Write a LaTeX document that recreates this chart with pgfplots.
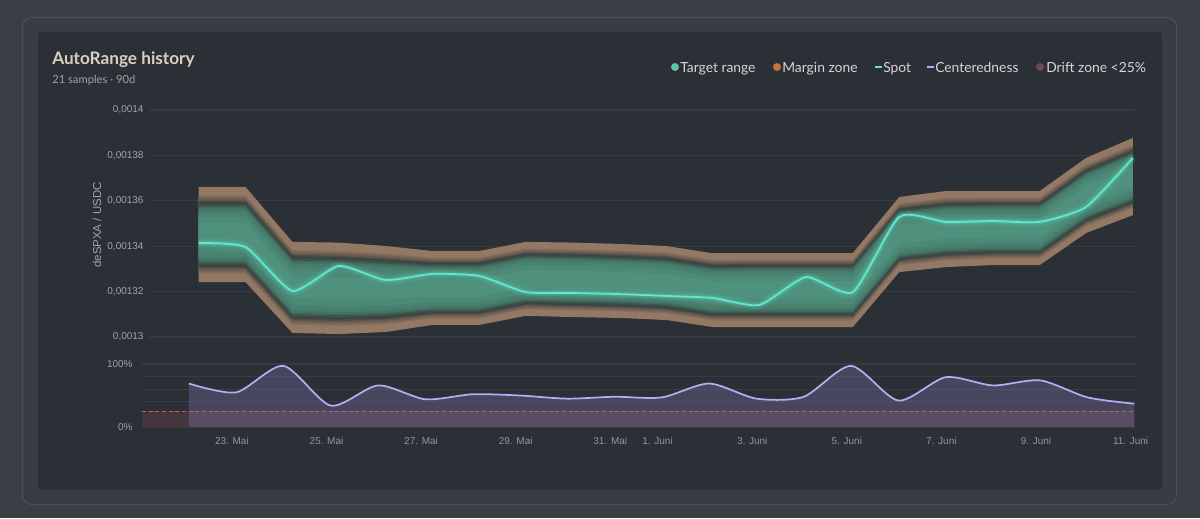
\documentclass[border=0pt]{standalone}
\usepackage{pgfplots}
\pgfplotsset{compat=1.18}
\usepackage{pgfplotstable}
\usepgfplotslibrary{fillbetween}
\usepackage{fontspec}
\setmainfont{Lato}
\newfontfamily\tickfont{Liberation Sans}

\pgfdeclarelayer{framebg}
\pgfplotsset{
  layers/framed/.define layer set={
    framebg,axis background,axis grid,axis ticks,axis lines,axis tick labels,
    pre main,main,axis descriptions,axis foreground
  }{
    grid style={/pgfplots/on layer=axis grid},
    tick style={/pgfplots/on layer=axis ticks},
    axis line style={/pgfplots/on layer=axis lines},
    label style={/pgfplots/on layer=axis descriptions},
    legend style={/pgfplots/on layer=axis descriptions},
    title style={/pgfplots/on layer=axis descriptions},
    ticklabel style={/pgfplots/on layer=axis tick labels},
    axis background@ style={/pgfplots/on layer=axis background},
  },
  set layers=framed,
}

\definecolor{bgouter}{HTML}{3A3E45}
\definecolor{card}{HTML}{383C43}
\definecolor{cardborder}{HTML}{4B4F57}
\definecolor{panel}{HTML}{2B2F36}
\definecolor{gridc}{HTML}{373B43}
\definecolor{tickgray}{HTML}{A0A4A9}
\definecolor{titlec}{HTML}{D9D0C1}
\definecolor{subc}{HTML}{9FA2A7}
\definecolor{legc}{HTML}{D4D6D9}
\definecolor{spotc}{HTML}{62E8CC}
\definecolor{lavc}{HTML}{B4AEF0}
\definecolor{lavfill}{HTML}{9A90D8}
\definecolor{driftc}{HTML}{45363D}
\definecolor{driftdot}{HTML}{6C4A52}
\definecolor{dashc}{HTML}{B9626E}
\definecolor{legtarget}{HTML}{5CC7A0}
\definecolor{legmargin}{HTML}{C8733A}
\definecolor{tanc}{HTML}{937864}
\definecolor{darkc}{HTML}{3E423F}
\definecolor{greendark}{HTML}{3B544C}
\definecolor{greenc}{HTML}{4B8A77}
\definecolor{greenlight}{HTML}{4F917D}

% upper panel: x = day (May numbering, 1 June = 32), values in 1e-5 units
\pgfplotstableread{
x mt mb s
22.30 136.61 132.42 134.14
23.29 136.61 132.42 133.96
24.28 134.19 130.18 132.03
25.26 134.16 130.13 133.13
26.25 134.01 130.22 132.51
27.24 133.79 130.53 132.78
28.23 133.79 130.53 132.69
29.21 134.19 130.93 131.98
30.20 134.16 130.88 131.94
31.19 134.10 130.84 131.89
32.18 134.01 130.75 131.81
33.16 133.69 130.44 131.72
34.15 133.70 130.44 131.41
35.14 133.70 130.44 132.64
36.13 133.70 130.44 131.98
37.11 136.17 132.86 135.29
38.10 136.43 133.08 135.07
39.09 136.43 133.17 135.11
40.08 136.43 133.17 135.07
41.06 137.89 134.58 135.73
42.05 138.77 135.37 137.89
}\updata

\pgfplotstableread{
x c
22.09 69
23.09 55
24.09 97
25.09 34
26.09 66
27.09 44
28.09 52
29.09 50
30.09 45
31.09 48
32.09 47
33.09 69
34.09 45
35.09 48
36.09 97
37.09 42
38.09 79
39.09 66
40.09 74
41.09 47
42.08 37
}\lowdata

\newcommand{\band}[3]{%
  \addplot[draw=none, name path=t#3, forget plot] table[x=x, y expr={\thisrow{mt}+#1*(\thisrow{mb}-\thisrow{mt})}]{\updata};
  \addplot[draw=none, name path=b#3, forget plot] table[x=x, y expr={\thisrow{mb}-#1*(\thisrow{mb}-\thisrow{mt})}]{\updata};
  \addplot[fill={#2}, draw=none, forget plot] fill between[of=t#3 and b#3];
}

\begin{document}
\begin{tikzpicture}
\begin{pgfonlayer}{framebg}
\begin{scope}[x=0.75pt,y=-0.75pt]
  \fill[bgouter] (0,0) rectangle (1200,518);
  \draw[cardborder, fill=card, line width=0.8pt, rounded corners=7pt] (22.5,17.5) rectangle (1176.5,504.5);
  \fill[panel, rounded corners=2pt] (38,32) rectangle (1162,490);
\end{scope}
\end{pgfonlayer}
\begin{scope}[x=0.75pt,y=-0.75pt]
  \useasboundingbox (0,0) rectangle (1200,518);
  % title
  \node[anchor=base west, inner sep=0pt, text=titlec, font=\bfseries\fontsize{12.9}{14}\selectfont] at (52,64) {AutoRange history};
  \node[anchor=base west, inner sep=0pt, text=subc, font=\fontsize{8.4}{10}\selectfont] at (52,83) {21 samples · 90d};
  % legend
  \begin{scope}[every node/.style={anchor=base west, inner sep=0pt, text=legc, font=\fontsize{10.4}{12}\selectfont}]
    \fill[legtarget] (675,67) circle (4);
    \node at (680,72) {Target range};
    \fill[legmargin] (777,67) circle (4);
    \node at (782,72) {Margin zone};
    \draw[spotc, line width=1.3pt] (875,67) -- (882,67);
    \node at (883,72) {Spot};
    \draw[lavc, line width=1.3pt] (927,67) -- (934,67);
    \node at (935,72) {Centeredness};
    \fill[driftdot] (1040,67) circle (4);
    \node at (1046,72) {Drift zone <25\%};
  \end{scope}
  \node[rotate=90, text=tickgray, font=\tickfont\fontsize{8.6}{10}\selectfont, inner sep=0pt] at (97,225) {deSPXA / USDC};
\end{scope}

% upper axis
\begin{axis}[
  at={(112.5pt,-252.75pt)}, anchor=south west,
  scale only axis, width=738.6pt, height=170.25pt,
  xmin=21.27, xmax=42.09, ymin=130, ymax=140,
  axis line style={draw=none}, major tick length=0pt, tick style={draw=none},
  xtick=\empty,
  ytick={130,132,134,136,138,140},
  yticklabels={{0,0013},{0,00132},{0,00134},{0,00136},{0,00138},{0,0014}},
  yticklabel style={font=\tickfont\fontsize{7.5}{9}\selectfont, text=tickgray, xshift=-1.3pt},
  ymajorgrids, grid style={gridc, line width=0.8pt},
]
\band{0.00}{tanc}{a}
\band{0.09}{tanc!80!darkc}{b}
\band{0.11}{tanc!60!darkc}{c}
\band{0.13}{tanc!40!darkc}{d}
\band{0.145}{tanc!20!darkc}{e}
\band{0.16}{darkc}{f}
\band{0.175}{greendark!60!darkc}{g}
\band{0.19}{greendark}{h}
\band{0.205}{greenc!35!greendark}{i}
\band{0.22}{greenc!55!greendark}{j}
\band{0.24}{greenc!72!greendark}{k}
\band{0.27}{greenc!86!greendark}{l}
\band{0.31}{greenc}{m}
\band{0.38}{greenlight}{n}
\addplot[spotc, opacity=0.10, line width=7pt, smooth, tension=0.35] table[x=x,y=s]{\updata};
\addplot[spotc, opacity=0.22, line width=3.6pt, smooth, tension=0.35] table[x=x,y=s]{\updata};
\addplot[spotc, line width=1.3pt, smooth, tension=0.35] table[x=x,y=s]{\updata};
\end{axis}

% lower axis
\begin{axis}[
  at={(106.5pt,-320.25pt)}, anchor=south west,
  scale only axis, width=745pt, height=47.25pt,
  xmin=21.10, xmax=42.10, ymin=0, ymax=100,
  axis line style={draw=none}, major tick length=0pt, minor tick length=0pt, tick style={draw=none},
  xtick={23,25,27,29,31,32,34,36,38,40,42},
  xticklabels={23. Mai,25. Mai,27. Mai,29. Mai,31. Mai,1. Juni,3. Juni,5. Juni,7. Juni,9. Juni,11. Juni},
  ytick={0,100}, yticklabels={0\%,100\%},
  minor ytick={20,40,60,80},
  ymajorgrids, yminorgrids,
  major grid style={gridc, line width=0.8pt},
  minor grid style={gridc, line width=0.6pt},
  yticklabel style={font=\tickfont\fontsize{7.5}{9}\selectfont, text=tickgray, xshift=-3.5pt},
  xticklabel style={font=\tickfont\fontsize{7.5}{9}\selectfont, text=tickgray!115, yshift=-4.5pt},
  clip=false,
]
\addplot[fill=driftc, draw=none] coordinates {(21.10,0) (21.10,25) (42.08,25) (42.08,0)} -- cycle;
\addplot[fill=lavfill, fill opacity=0.25, draw=none, smooth, tension=0.45] table[x=x,y=c]{\lowdata} \closedcycle;
\addplot[dashc, line width=0.8pt, dash pattern=on 3pt off 2pt] coordinates {(21.10,25) (42.08,25)};
\addplot[lavc, line width=1.3pt, smooth, tension=0.45] table[x=x,y=c]{\lowdata};
\end{axis}
\end{tikzpicture}
\end{document}
